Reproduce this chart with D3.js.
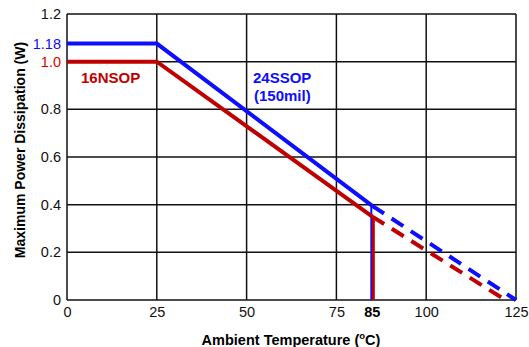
<!DOCTYPE html>
<html>
<head>
<meta charset="utf-8">
<script src="https://cdn.jsdelivr.net/npm/d3@7"></script>
<style>
  body { margin: 0; background: #fff; }
  text { font-family: "Liberation Sans", Arial, sans-serif; }
</style>
</head>
<body>
<div id="chart"></div>
<script>
const width = 529
const height = 347
const margin = { top: 14, bottom: 47, left: 67, right: 13 }

// Data
const xTicks = [0, 25, 50, 75, 100, 125]
const yTicks = [0, 0.2, 0.4, 0.6, 0.8, 1.2]
const blueSolid = [[0, 1.076], [25, 1.076], [85, 0.395]]
const blueDash = [[85, 0.395], [125, 0]]
const redSolid = [[0, 1.0], [25, 1.0], [85, 0.35]]
const redDash = [[85, 0.35], [121, 0.01]]
const blueLabel = { text: "1.18", value: 1.076 }
const redLabel = { text: "1.0", value: 1.0 }

const BLUE = "#0d0dff"
const RED = "#c00000"
const FS = 14.5

const svg = d3.select("#chart").append("svg")
  .attr("width", width)
  .attr("height", height)

const x = d3.scaleLinear().domain([0, 125]).range([margin.left, width - margin.right])
const y = d3.scaleLinear().domain([0, 1.2]).range([height - margin.bottom, margin.top])

// grid
const grid = svg.append("g")
grid.selectAll(".vg").data(xTicks).enter().append("line")
  .attr("x1", d => x(d)).attr("x2", d => x(d))
  .attr("y1", y(0)).attr("y2", y(1.2))
  .attr("stroke", "#111").attr("stroke-width", 1.5)
grid.selectAll(".hg").data(d3.range(0, 7).map(i => i * 0.2)).enter().append("line")
  .attr("y1", d => y(d)).attr("y2", d => y(d))
  .attr("x1", x(0)).attr("x2", x(125))
  .attr("stroke", "#111").attr("stroke-width", 1.5)

// ejes
const xAxis = d3.axisBottom(x).tickValues(xTicks).tickSize(0).tickPadding(7)
svg.append("g").attr("transform", `translate(0, ${y(0)})`).call(xAxis)
  .call(g => g.select(".domain").remove())
  .selectAll("text").attr("font-size", FS).attr("fill", "#111")
svg.append("text").attr("x", x(85)).attr("y", y(0) + 7).attr("dy", "0.71em")
  .attr("text-anchor", "middle").attr("font-size", FS).attr("font-weight", "bold")
  .text("85")

const yAxis = d3.axisLeft(y).tickValues(yTicks).tickSize(0).tickPadding(6)
  .tickFormat(d => d === 0 ? "0" : d3.format(".1f")(d))
svg.append("g").attr("transform", `translate(${x(0)}, 0)`).call(yAxis)
  .call(g => g.select(".domain").remove())
  .selectAll("text").attr("font-size", FS).attr("fill", "#111")

svg.append("text").attr("x", x(0) - 6).attr("y", y(blueLabel.value)).attr("dy", "0.35em")
  .attr("text-anchor", "end").attr("font-size", FS).attr("fill", BLUE).text(blueLabel.text)
svg.append("text").attr("x", x(0) - 6).attr("y", y(redLabel.value)).attr("dy", "0.35em")
  .attr("text-anchor", "end").attr("font-size", FS).attr("fill", "#e00000").text(redLabel.text)

// titulos
const xt = svg.append("text").attr("x", 291).attr("y", 345)
  .attr("text-anchor", "middle").attr("font-size", 14.5).attr("font-weight", "bold")
xt.append("tspan").text("Ambient Temperature (")
xt.append("tspan").attr("font-size", 9.5).attr("dy", -6).text("o")
xt.append("tspan").attr("dy", 6).text("C)")

svg.append("text").attr("transform", `translate(25, 150) rotate(-90)`)
  .attr("text-anchor", "middle").attr("font-size", 14).attr("font-weight", "bold")
  .text("Maximum Power Dissipation (W)")

// lineas
const line = d3.line().x(d => x(d[0])).y(d => y(d[1]))

svg.append("line").attr("x1", x(85) - 1).attr("x2", x(85) - 1)
  .attr("y1", y(0)).attr("y2", y(blueSolid[2][1]))
  .attr("stroke", BLUE).attr("stroke-width", 2)

svg.append("path").datum(redDash).attr("d", line)
  .attr("fill", "none").attr("stroke", RED).attr("stroke-width", 4)
  .attr("stroke-dasharray", "14,9")
svg.append("path").datum(redSolid).attr("d", line)
  .attr("fill", "none").attr("stroke", RED).attr("stroke-width", 4)
svg.append("line").attr("x1", x(85) + 1).attr("x2", x(85) + 1)
  .attr("y1", y(0)).attr("y2", y(redSolid[2][1]))
  .attr("stroke", RED).attr("stroke-width", 3)

svg.append("path").datum(blueDash).attr("d", line)
  .attr("fill", "none").attr("stroke", BLUE).attr("stroke-width", 4)
  .attr("stroke-dasharray", "14,9")
svg.append("path").datum(blueSolid).attr("d", line)
  .attr("fill", "none").attr("stroke", BLUE).attr("stroke-width", 4)

// anotaciones
svg.append("text").attr("x", 81).attr("y", 83).attr("font-size", 15)
  .attr("font-weight", "bold").attr("fill", RED).text("16NSOP")
svg.append("text").attr("x", 253).attr("y", 83).attr("font-size", 15)
  .attr("font-weight", "bold").attr("fill", BLUE).text("24SSOP")
svg.append("text").attr("x", 254).attr("y", 101).attr("font-size", 15)
  .attr("font-weight", "bold").attr("fill", BLUE).text("(150mil)")
</script>
</body>
</html>
